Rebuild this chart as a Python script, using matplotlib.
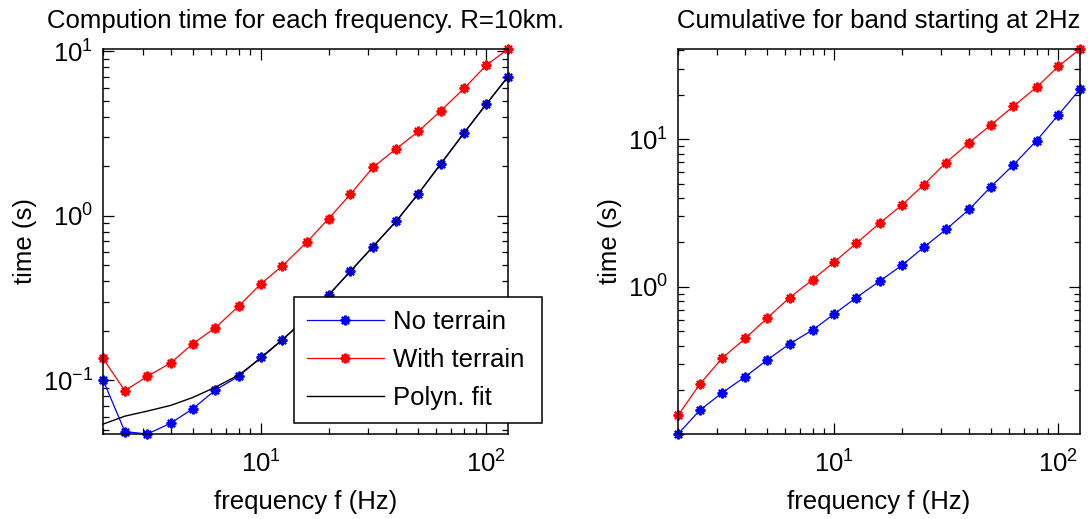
import matplotlib
matplotlib.use("Agg")
import matplotlib.pyplot as plt
from matplotlib.ticker import NullFormatter

plt.rcParams['font.family'] = ['Liberation Sans', 'DejaVu Sans']

# frequencies (Hz)
freq = [2, 2.5, 3.15, 4, 5, 6.3, 8, 10, 12.5, 16, 20, 25, 31.5, 40, 50, 63, 80, 100, 125]

# computation time per frequency (s)
t_no_terrain = [0.101, 0.0489, 0.0473, 0.0551, 0.0673, 0.0875, 0.106, 0.138, 0.177,
                0.24, 0.33, 0.46, 0.65, 0.93, 1.36, 2.07, 3.2, 4.75, 7.0]
t_with_terrain = [0.136, 0.0867, 0.106, 0.128, 0.167, 0.209, 0.283, 0.385, 0.497,
                  0.69, 0.96, 1.35, 1.97, 2.56, 3.25, 4.35, 5.95, 8.2, 10.3]
t_fit = [0.0543, 0.0607, 0.0652, 0.0706, 0.0788, 0.0910, 0.108, 0.136, 0.177,
         0.24, 0.33, 0.46, 0.65, 0.93, 1.36, 2.07, 3.2, 4.75, 7.0]

# cumulative time for band starting at 2 Hz (s)
cum_no_terrain = [0.101, 0.146, 0.192, 0.247, 0.320, 0.411, 0.512, 0.658, 0.846,
                  1.10, 1.40, 1.85, 2.45, 3.35, 4.77, 6.70, 9.79, 14.6, 21.8]
cum_with_terrain = [0.135, 0.219, 0.330, 0.449, 0.615, 0.846, 1.122, 1.48, 1.97,
                    2.72, 3.58, 4.90, 6.95, 9.49, 12.5, 16.7, 22.5, 31.1, 40.8]

labels = ['No terrain', 'With terrain', 'Polyn. fit']
titles = ['Compution time for each frequency. R=10km.', 'Cumulative for band starting at 2Hz']
xlabel = 'frequency f (Hz)'
ylabel = 'time (s)'

FS = 18.5
W, H = 1088, 519
fig = plt.figure(figsize=(W / 100, H / 100), dpi=100)
ax1 = fig.add_axes([103 / W, 1 - 434 / H, 405 / W, 385 / H])
ax2 = fig.add_axes([678 / W, 1 - 434 / H, 402 / W, 385 / H])

mk = dict(marker=(8, 2, 0), markersize=7, markeredgewidth=1.6, linewidth=0.9)

ax1.plot(freq, t_no_terrain, color='#0000ff', label=labels[0], **mk)
ax1.plot(freq, t_with_terrain, color='#ff0000', label=labels[1], **mk)
ax1.plot(freq, t_fit, color='black', linewidth=1.0, label=labels[2])

ax2.plot(freq, cum_no_terrain, color='#0000ff', **mk)
ax2.plot(freq, cum_with_terrain, color='#ff0000', **mk)

series1 = t_no_terrain + t_with_terrain + t_fit
series2 = cum_no_terrain + cum_with_terrain
for ax, ser, title in [(ax1, series1, titles[0]), (ax2, series2, titles[1])]:
    ax.set_xscale('log')
    ax.set_yscale('log')
    ax.set_xlim(min(freq), max(freq))
    ax.set_ylim(min(ser), max(ser))
    for sp in ax.spines.values():
        sp.set_linewidth(1.1)
    ax.tick_params(which='both', direction='in', top=True, right=True,
                   labelsize=FS, width=0.9)
    ax.tick_params(which='major', length=8)
    ax.tick_params(axis='x', which='major', pad=12)
    ax.tick_params(axis='y', which='major', pad=7)
    ax.tick_params(which='minor', length=4)
    ax.xaxis.set_minor_formatter(NullFormatter())
    ax.yaxis.set_minor_formatter(NullFormatter())
    ax.set_title(title, fontsize=FS, pad=15)
    ax.set_xlabel(xlabel, fontsize=FS, labelpad=9)
    ax.set_ylabel(ylabel, fontsize=FS, labelpad=4)
    for p in ax.lines:
        p.set_clip_on(False)

leg = ax1.legend(loc='lower left', bbox_to_anchor=(0.471, 0.029, 0.614, 0.32),
                 mode='expand', fontsize=FS, frameon=True, fancybox=False,
                 edgecolor='black', framealpha=1, borderpad=0.5,
                 handlelength=3.0, handletextpad=0.35, labelspacing=0.55,
                 borderaxespad=0)
leg.get_frame().set_linewidth(1.1)
leg.set_zorder(10)

fig.savefig('out.png', dpi=100)
